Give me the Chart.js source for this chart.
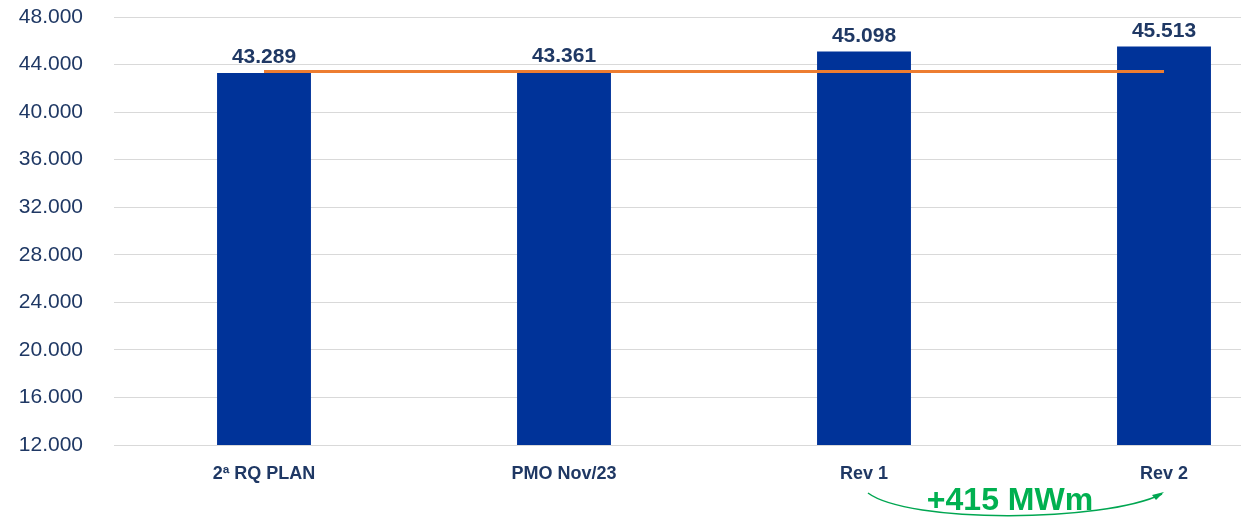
<!DOCTYPE html>
<html>
<head>
<meta charset="utf-8">
<script src="https://cdn.jsdelivr.net/npm/chart.js@4"></script>
<style>
  html, body { margin: 0; padding: 0; background: #fff; overflow: hidden; }
  .wrap { position: relative; width: 1314px; height: 519px; }
</style>
</head>
<body>
<div class="wrap"><canvas id="mwChart"></canvas></div>
<script>
// Data
const categories = ['2ª RQ PLAN', 'PMO Nov/23', 'Rev 1', 'Rev 2'];
const barValues = [43289, 43361, 45098, 45513];
const refLine = [43420, 43420, 43420, 43420];
const yTicks = [12000, 16000, 20000, 24000, 28000, 32000, 36000, 40000, 44000, 48000];
const deltaLabel = '+415 MWm';

const navy = '#1f3864';
const fontFamily = "'Liberation Sans', Arial, sans-serif";

function fmt(v) {
    const s = Math.round(v).toString();
    return s.replace(/\B(?=(\d{3})+(?!\d))/g, '.');
}

// value labels above the bars + green delta arrow
const labelsPlugin = {
    id: 'labelsPlugin',
    afterDatasetsDraw(chart) {
        const ctx = chart.ctx;
        const meta = chart.getDatasetMeta(0);
        ctx.save();
        ctx.font = 'bold 21px ' + fontFamily;
        ctx.fillStyle = navy;
        ctx.textAlign = 'center';
        ctx.textBaseline = 'bottom';
        meta.data.forEach((bar, i) => {
            ctx.fillText(fmt(barValues[i]), bar.x, bar.y - 5);
        });

        // curved arrow between Rev 1 and Rev 2
        const x1 = chart.scales.x.getPixelForValue(2) + 4;
        const x2 = chart.scales.x.getPixelForValue(3) - 2;
        const yA = chart.chartArea.bottom + 48;
        ctx.strokeStyle = '#00a651';
        ctx.lineWidth = 1.5;
        ctx.beginPath();
        ctx.moveTo(x1, yA);
        ctx.bezierCurveTo(x1 + 40, yA + 30, x2 - 60, yA + 30, x2, yA + 1);
        ctx.stroke();
        // arrowhead
        ctx.fillStyle = '#00a651';
        ctx.beginPath();
        ctx.moveTo(x2 + 2, yA - 1);
        ctx.lineTo(x2 - 10, yA + 2);
        ctx.lineTo(x2 - 6, yA + 7);
        ctx.closePath();
        ctx.fill();

        ctx.font = 'bold 32px ' + fontFamily;
        ctx.fillStyle = '#00b050';
        ctx.textBaseline = 'middle';
        ctx.fillText(deltaLabel, (x1 + x2) / 2 - 5, yA + 8);
        ctx.restore();
    }
};

new Chart(document.getElementById('mwChart').getContext('2d'), {
    data: {
        labels: categories,
        datasets: [{
            type: 'bar',
            data: barValues,
            backgroundColor: '#003399',
            categoryPercentage: 1,
            barPercentage: 0.313,
            order: 2
        }, {
            type: 'line',
            data: refLine,
            borderColor: '#ed7d31',
            borderWidth: 3,
            pointRadius: 0,
            fill: false,
            order: 1
        }]
    },
    options: {
        responsive: true,
        maintainAspectRatio: false,
        animation: false,
        layout: { padding: { top: 17, right: 0, left: 0, bottom: 0 } },
        plugins: {
            legend: { display: false },
            tooltip: { enabled: false }
        },
        scales: {
            x: {
                grid: { display: false, drawTicks: false },
                border: { display: false },
                ticks: {
                    color: navy,
                    padding: 18,
                    font: { family: fontFamily, size: 18, weight: 'bold' }
                },
                afterFit(scale) { scale.height = 74; }
            },
            y: {
                min: 12000,
                max: 48000,
                afterBuildTicks(scale) { scale.ticks = yTicks.map(v => ({ value: v })); },
                grid: { color: '#d9d9d9', lineWidth: 1, drawTicks: false },
                border: { display: false },
                ticks: {
                    color: navy,
                    padding: 31,
                    font: { family: fontFamily, size: 21 },
                    callback: v => fmt(v)
                },
                afterFit(scale) {
                    scale.width = 114;
                    scale.paddingTop = 0;
                    scale.paddingBottom = 0;
                }
            }
        }
    },
    plugins: [labelsPlugin]
});
</script>
</body>
</html>
